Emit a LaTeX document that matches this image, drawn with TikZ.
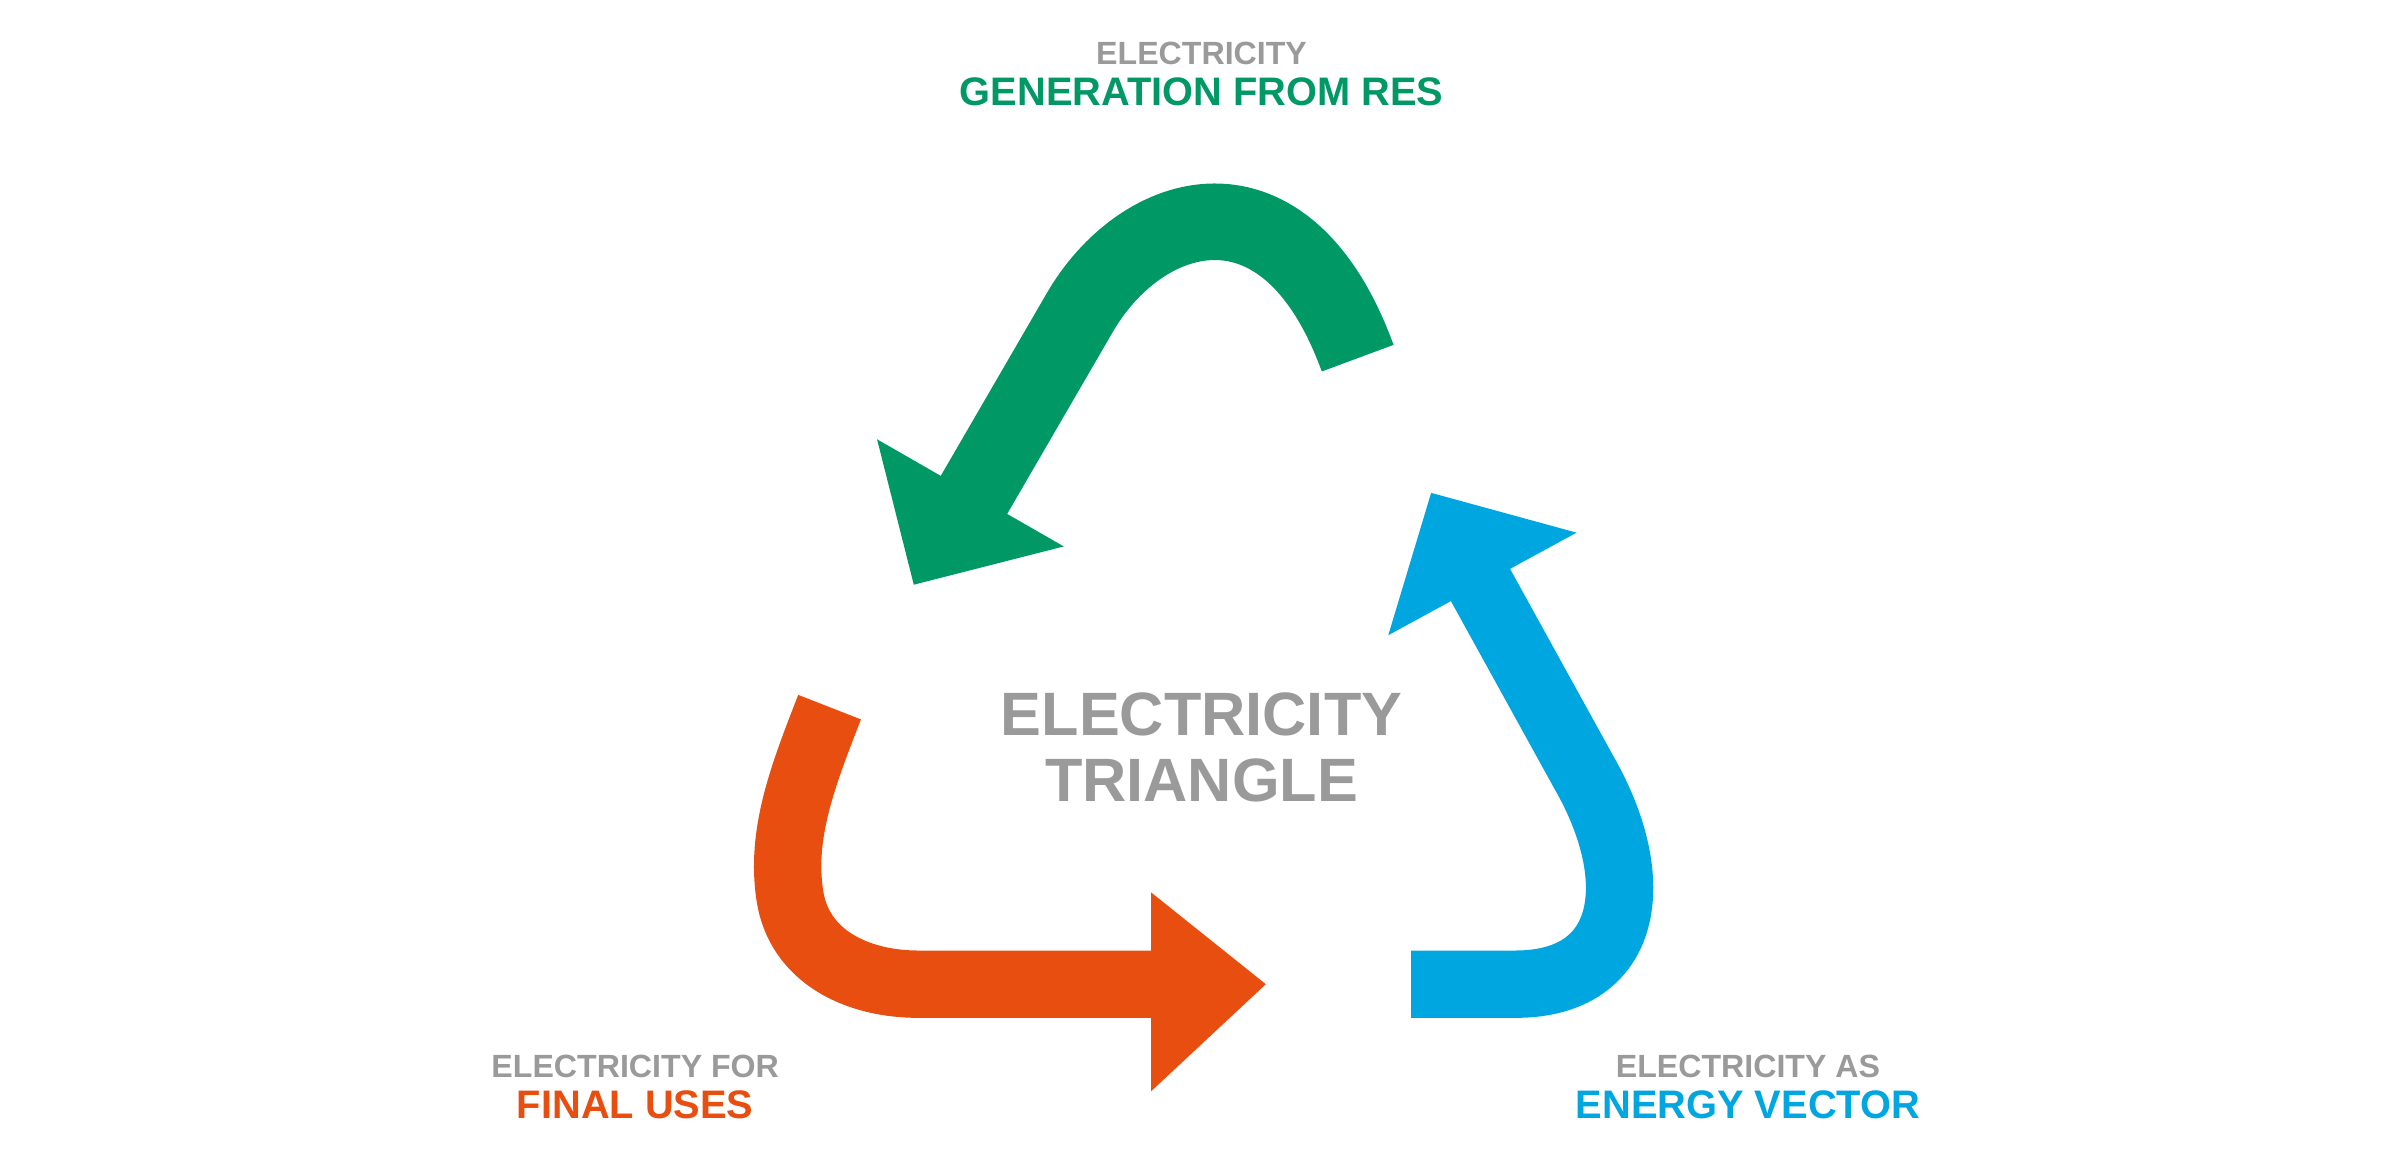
\documentclass[tikz,border=0pt]{standalone}
\usepackage{fontspec}
\setmainfont{Liberation Sans}
\begin{document}
\begin{tikzpicture}[x=1pt,y=-1pt,
  gr/.style={color=ggray},
  lbl/.style={font=\bfseries\fontsize{21}{23}\selectfont,inner sep=0pt},
  big/.style={font=\bfseries\fontsize{26}{28}\selectfont,inner sep=0pt},
  ctr/.style={font=\bfseries\fontsize{40}{42}\selectfont,inner sep=0pt,text=ggray},
  shaft/.style={line width=#1,line cap=butt}]
\definecolor{ggreen}{HTML}{009966}
\definecolor{gblue}{HTML}{00A6E0}
\definecolor{gorange}{HTML}{E84E10}
\definecolor{ggray}{HTML}{9A9A9A}
\useasboundingbox (0,0) rectangle (1568,758);
% green
\coordinate (g0) at (887,234);
\coordinate (g2) at (622,348);
\draw[ggreen,shaft=50] (g0) .. controls (840,105) and (745,135) .. (705,205) -- (g2);
\fill[ggreen] (573,287) -- (597,382) -- (695,357) -- cycle;
% blue
\coordinate (b0) at (955,360);
\coordinate (b1) at (922,643);
\draw[gblue,shaft=44] (b0) -- (1035,505) .. controls (1075,575) and (1065,643) .. (990,643) -- (b1);
\fill[gblue] (907,415) -- (935,322) -- (1030,348) -- cycle;
% orange
\coordinate (o0) at (542,462);
\coordinate (o1) at (760,643);
\draw[gorange,shaft=44] (o0) .. controls (524,508) and (510,545) .. (516,585) .. controls (522,625) and (560,643) .. (600,643) -- (o1);
\fill[gorange] (752,583) -- (827,643) -- (752,713) -- cycle;
% texts
\node[lbl,gr] (t1) at (785,35) {ELECTRICITY};
\node[big,text=ggreen] (t2) at (785,60) {GENERATION FROM RES};
\node[ctr] (c1) at (785,467) {ELECTRICITY};
\node[ctr] (c2) at (785,510) {TRIANGLE};
\node[lbl,gr] (l1) at (415,697) {ELECTRICITY FOR};
\node[big,text=gorange] (l2) at (415,722) {FINAL USES};
\node[lbl,gr] (r1) at (1142,697) {ELECTRICITY AS};
\node[big,text=gblue] (r2) at (1142,722) {ENERGY VECTOR};
\end{tikzpicture}
\end{document}
